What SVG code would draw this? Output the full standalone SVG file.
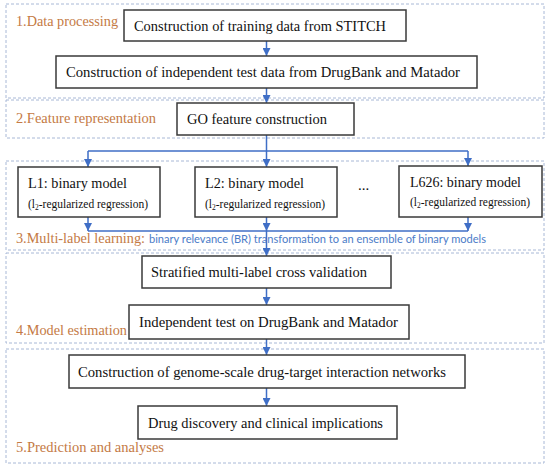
<svg xmlns="http://www.w3.org/2000/svg" width="550" height="470" viewBox="0 0 550 470">
<defs>
<marker id="ah" viewBox="0 0 10 10" refX="10" refY="5" markerWidth="8" markerHeight="8" markerUnits="userSpaceOnUse" orient="auto">
<path d="M0,0 L10,5 L0,10 Z" fill="#3F6EC6"/>
</marker>
<style>
.sec{fill:none;stroke:#A8B8D6;stroke-width:1;stroke-dasharray:3,2}
.box{fill:#fff;stroke:#3a3a3a;stroke-width:1.5}
.t{font-family:"Liberation Serif","Times New Roman",serif;font-size:15px;fill:#111}
.s{font-family:"Liberation Serif","Times New Roman",serif;font-size:11.5px;fill:#111}
.lab{font-family:"Liberation Serif","Times New Roman",serif;font-size:15px;fill:#C47A45}
.bl{font-family:Lato,"Liberation Sans",sans-serif;font-size:11px;fill:#4C7CC8}
.c{fill:none;stroke:#3F6EC6;stroke-width:1.5}
.ca{fill:none;stroke:#3F6EC6;stroke-width:1.5;marker-end:url(#ah)}
</style>
</defs>
<rect width="550" height="470" fill="#fff"/>
<g id="sections">
<rect class="sec" x="6" y="4" width="538" height="94"/>
<rect class="sec" x="6" y="100" width="538" height="38"/>
<rect class="sec" x="6" y="161" width="538" height="89"/>
<rect class="sec" x="6" y="253" width="538" height="90"/>
<rect class="sec" x="6" y="349" width="538" height="114"/>
</g>
<g id="labels">
<text class="lab" x="16" y="26" textLength="102" lengthAdjust="spacingAndGlyphs">1.Data processing</text>
<text class="lab" x="16" y="123" textLength="140" lengthAdjust="spacingAndGlyphs">2.Feature representation</text>
<text class="lab" x="16" y="243" textLength="129" lengthAdjust="spacingAndGlyphs">3.Multi-label learning:</text>
<text class="bl" x="149" y="243" textLength="337" lengthAdjust="spacingAndGlyphs">binary relevance (BR) transformation to an ensemble of binary models</text>
<text class="lab" x="16" y="335" textLength="111" lengthAdjust="spacingAndGlyphs">4.Model estimation</text>
<text class="lab" x="16" y="452" textLength="148" lengthAdjust="spacingAndGlyphs">5.Prediction and analyses</text>
</g>
<g id="connectors">
<line class="ca" x1="266.5" y1="41" x2="266.5" y2="56"/>
<line class="ca" x1="266.5" y1="88" x2="266.5" y2="103"/>
<line class="c" x1="266.5" y1="135" x2="266.5" y2="151"/>
<polyline class="c" points="88,151 468,151"/>
<line class="ca" x1="88" y1="151" x2="88" y2="167"/>
<line class="ca" x1="266.5" y1="151" x2="266.5" y2="167"/>
<line class="ca" x1="468" y1="151" x2="468" y2="166"/>
<line class="ca" x1="88" y1="217" x2="88" y2="231"/>
<line class="ca" x1="266.5" y1="217" x2="266.5" y2="231"/>
<line class="ca" x1="468" y1="217" x2="468" y2="231"/>
<line class="c" x1="88" y1="231" x2="468" y2="231"/>
<line class="ca" x1="266.5" y1="231" x2="266.5" y2="256"/>
<line class="ca" x1="266.5" y1="288" x2="266.5" y2="305"/>
<line class="ca" x1="266.5" y1="339" x2="266.5" y2="355"/>
<line class="ca" x1="266.5" y1="388" x2="266.5" y2="406"/>
</g>
<g id="n1">
<rect class="box" x="124" y="10" width="282" height="31"/>
<text class="t" x="134" y="30.5" textLength="252" lengthAdjust="spacingAndGlyphs">Construction of training data from STITCH</text>
</g>
<g id="n2">
<rect class="box" x="56" y="56" width="421" height="32"/>
<text class="t" x="66" y="77" textLength="394" lengthAdjust="spacingAndGlyphs">Construction of independent test data from DrugBank and Matador</text>
</g>
<g id="n3">
<rect class="box" x="177" y="103" width="177" height="32"/>
<text class="t" x="187" y="124" textLength="140" lengthAdjust="spacingAndGlyphs">GO feature construction</text>
</g>
<g id="L1">
<rect class="box" x="18" y="167" width="142" height="50"/>
<text class="t" x="28" y="188" textLength="99" lengthAdjust="spacingAndGlyphs">L1: binary model</text>
<text class="s" x="28" y="208" textLength="120" lengthAdjust="spacingAndGlyphs">(l<tspan font-size="7.5" dy="2">2</tspan><tspan dy="-2">-regularized regression)</tspan></text>
</g>
<g id="L2">
<rect class="box" x="195" y="167" width="142" height="50"/>
<text class="t" x="205" y="188" textLength="99" lengthAdjust="spacingAndGlyphs">L2: binary model</text>
<text class="s" x="205" y="208" textLength="120" lengthAdjust="spacingAndGlyphs">(l<tspan font-size="7.5" dy="2">2</tspan><tspan dy="-2">-regularized regression)</tspan></text>
</g>
<g id="dots">
<text class="t" x="358" y="190">...</text>
</g>
<g id="L626">
<rect class="box" x="399" y="166" width="143" height="51"/>
<text class="t" x="410" y="187" textLength="111" lengthAdjust="spacingAndGlyphs">L626: binary model</text>
<text class="s" x="410" y="206" textLength="120" lengthAdjust="spacingAndGlyphs">(l<tspan font-size="7.5" dy="2">2</tspan><tspan dy="-2">-regularized regression)</tspan></text>
</g>
<g id="n4">
<rect class="box" x="142" y="256" width="249" height="32"/>
<text class="t" x="151" y="277" textLength="216" lengthAdjust="spacingAndGlyphs">Stratified multi-label cross validation</text>
</g>
<g id="n5">
<rect class="box" x="129" y="305" width="280" height="34"/>
<text class="t" x="139" y="327" textLength="259" lengthAdjust="spacingAndGlyphs">Independent test on DrugBank and Matador</text>
</g>
<g id="n6">
<rect class="box" x="69" y="355" width="396" height="33"/>
<text class="t" x="78" y="376.5" textLength="368" lengthAdjust="spacingAndGlyphs">Construction of genome-scale drug-target interaction networks</text>
</g>
<g id="n7">
<rect class="box" x="138" y="406" width="259" height="33"/>
<text class="t" x="148" y="427.5" textLength="235" lengthAdjust="spacingAndGlyphs">Drug discovery and clinical implications</text>
</g>
</svg>
